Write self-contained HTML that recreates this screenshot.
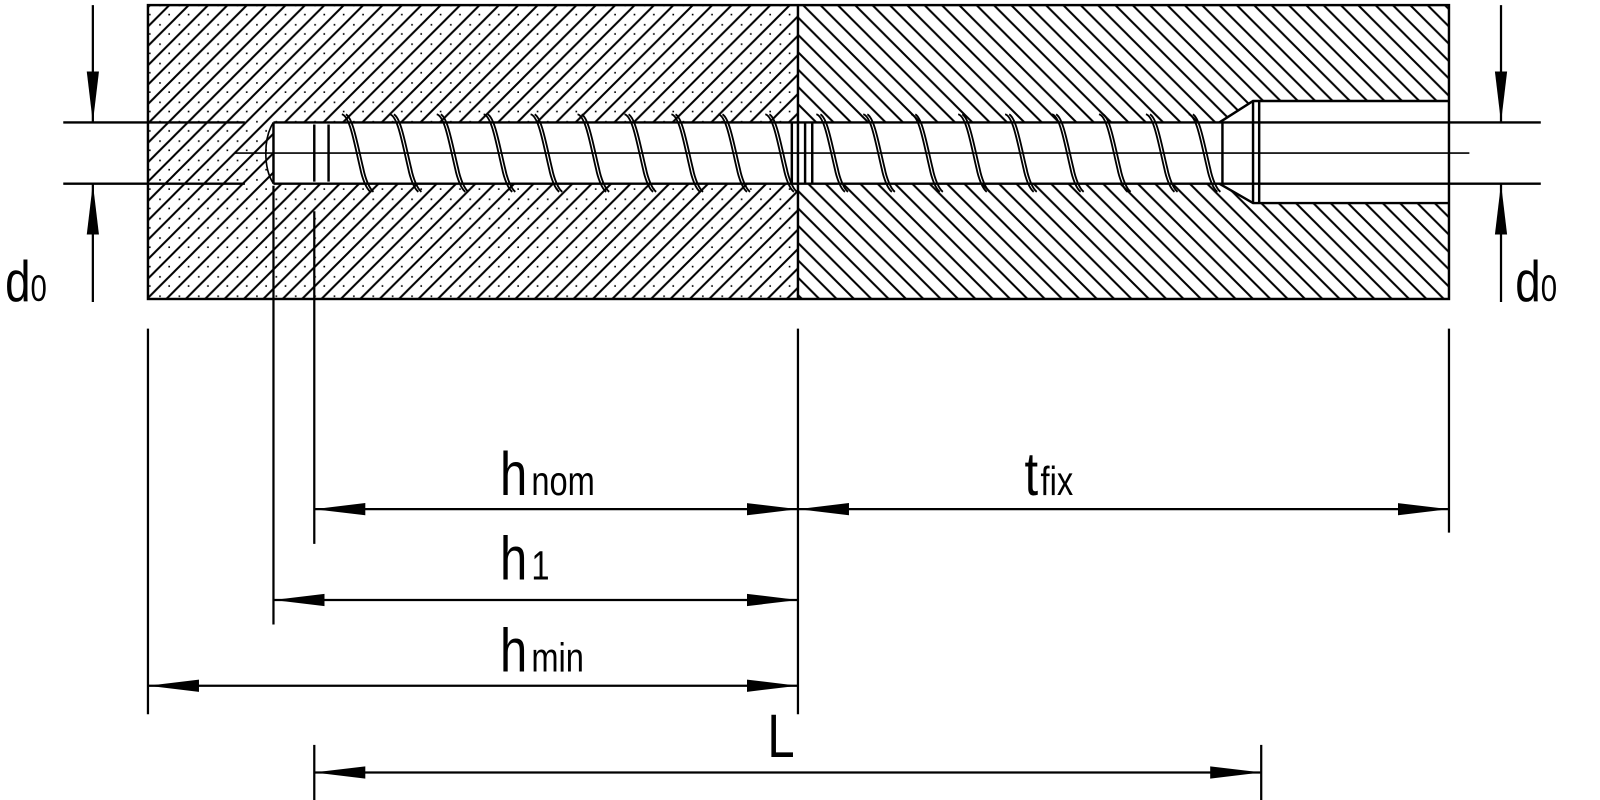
<!DOCTYPE html>
<html><head><meta charset="utf-8"><style>
html,body{margin:0;padding:0;background:#fff;width:1600px;height:800px;overflow:hidden}
svg{display:block}
text{font-family:"Liberation Sans Narrow","Liberation Sans","DejaVu Sans",sans-serif;fill:#000}
</style></head><body>
<svg width="1600" height="800" viewBox="0 0 1600 800" xmlns="http://www.w3.org/2000/svg">
<defs>
<pattern id="hl" width="19" height="19" patternUnits="userSpaceOnUse">
<rect width="19" height="19" fill="#fff"/>
<path d="M-2,21 L21,-2 M-8,8 L8,-8 M11,27 L27,11" stroke="#000" stroke-width="2"/>
<rect x="4" y="4.5" width="1.6" height="1.6" fill="#000"/>
<rect x="13" y="13.5" width="1.6" height="1.6" fill="#000"/>
</pattern>
<pattern id="hr" width="17" height="17" patternUnits="userSpaceOnUse">
<rect width="17" height="17" fill="#fff"/>
<path d="M-2,-2 L19,19 M-8,9 L8,25 M9,-8 L25,8" stroke="#000" stroke-width="2"/>
</pattern>
<g id="th" fill="none" stroke="#000" stroke-width="1.8">
<path d="M0,112 C8,114 12,140 18,165 C20,175 24,185 28,188"/>
<path d="M4,112 C11,116 15,140 21,165 C23,175 27,185 31,188"/>
</g>
<marker id="a" viewBox="0 0 50 14" refX="50" refY="7" markerWidth="50" markerHeight="14" markerUnits="userSpaceOnUse" orient="auto-start-reverse">
<path d="M0,1 L50,7 L0,13 Z" fill="#000"/>
</marker>
</defs>
<g transform="scale(1.0204)">
<rect x="145" y="5" width="637" height="288" fill="url(#hl)"/>
<rect x="782" y="5" width="638" height="288" fill="url(#hr)"/>
<rect x="268" y="120" width="930" height="60" fill="#fff"/>
<path d="M1195,120 L1228,99 L1420,99 L1420,199 L1228,199 L1195,180 Z" fill="#fff"/>
<g fill="none" stroke="#000" stroke-width="2.4">
<rect x="145" y="5" width="1275" height="288"/>
<line x1="782" y1="5" x2="782" y2="293"/>
<path d="M1195,120 L1228,99 L1420,99 M1195,180 L1228,199 L1420,199"/>
<line x1="1228" y1="99" x2="1228" y2="199"/>
<line x1="1234" y1="99" x2="1234" y2="199"/>
<line x1="1198" y1="121" x2="1198" y2="180"/>
<line x1="268" y1="120" x2="268" y2="180"/>
<line x1="308" y1="122" x2="308" y2="178"/>
<line x1="322" y1="122" x2="322" y2="178"/>
<line x1="776" y1="120" x2="776" y2="180"/>
<line x1="789" y1="120" x2="789" y2="180"/>
<line x1="796" y1="120" x2="796" y2="180"/>
<path d="M268,120 C258,135 258,165 268,180" stroke-width="1.6"/>
<line x1="62" y1="120" x2="240" y2="120"/>
<line x1="62" y1="180" x2="240" y2="180"/>
<line x1="268" y1="120" x2="1510" y2="120"/>
<line x1="268" y1="180" x2="1510" y2="180"/>
<line x1="230" y1="150" x2="1440" y2="150" stroke-width="1.6"/>
</g>
<g>
<use href="#th" x="335"/><use href="#th" x="382"/><use href="#th" x="428"/><use href="#th" x="474"/>
<use href="#th" x="520"/><use href="#th" x="566"/><use href="#th" x="612"/><use href="#th" x="658"/>
<use href="#th" x="704"/><use href="#th" x="750"/><use href="#th" x="800"/><use href="#th" x="846"/>
<use href="#th" x="893"/><use href="#th" x="939"/><use href="#th" x="985"/><use href="#th" x="1031"/>
<use href="#th" x="1077"/><use href="#th" x="1123"/><use href="#th" x="1165"/>
</g>
<g stroke="#000" stroke-width="2.2" fill="none">
<line x1="91" y1="5" x2="91" y2="120" marker-end="url(#a)"/>
<line x1="91" y1="296" x2="91" y2="180" marker-end="url(#a)"/>
<line x1="1471" y1="5" x2="1471" y2="120" marker-end="url(#a)"/>
<line x1="1471" y1="296" x2="1471" y2="180" marker-end="url(#a)"/>
<line x1="145" y1="322" x2="145" y2="700"/>
<line x1="268" y1="182" x2="268" y2="612"/>
<line x1="308" y1="207" x2="308" y2="533"/>
<line x1="782" y1="322" x2="782" y2="700"/>
<line x1="1420" y1="322" x2="1420" y2="522"/>
<line x1="308" y1="730" x2="308" y2="785"/>
<line x1="1236" y1="730" x2="1236" y2="785"/>
<line x1="308" y1="499" x2="782" y2="499" marker-start="url(#a)" marker-end="url(#a)"/>
<line x1="782" y1="499" x2="1420" y2="499" marker-start="url(#a)" marker-end="url(#a)"/>
<line x1="268" y1="588" x2="782" y2="588" marker-start="url(#a)" marker-end="url(#a)"/>
<line x1="145" y1="672" x2="782" y2="672" marker-start="url(#a)" marker-end="url(#a)"/>
<line x1="308" y1="757" x2="1236" y2="757" marker-start="url(#a)" marker-end="url(#a)"/>
</g>
<g transform="translate(5,295) scale(0.8,1)"><text x="0" y="0" font-size="56">d<tspan font-size="36">0</tspan></text></g>
<g transform="translate(1485,295) scale(0.8,1)"><text x="0" y="0" font-size="56">d<tspan font-size="36">0</tspan></text></g>
<g transform="translate(490,485) scale(0.8,1)"><text x="0" y="0" font-size="60">h<tspan dx="5" font-size="40">nom</tspan></text></g>
<g transform="translate(1004,485) scale(0.8,1)"><text x="0" y="0" font-size="60">t<tspan dx="3" font-size="40">fix</tspan></text></g>
<g transform="translate(490,568) scale(0.8,1)"><text x="0" y="0" font-size="60">h<tspan dx="5" font-size="40">1</tspan></text></g>
<g transform="translate(490,658) scale(0.8,1)"><text x="0" y="0" font-size="60">h<tspan dx="5" font-size="40">min</tspan></text></g>
<g transform="translate(752,742) scale(0.8,1)"><text x="0" y="0" font-size="60">L</text></g>
</g>
</svg>
</body></html>
